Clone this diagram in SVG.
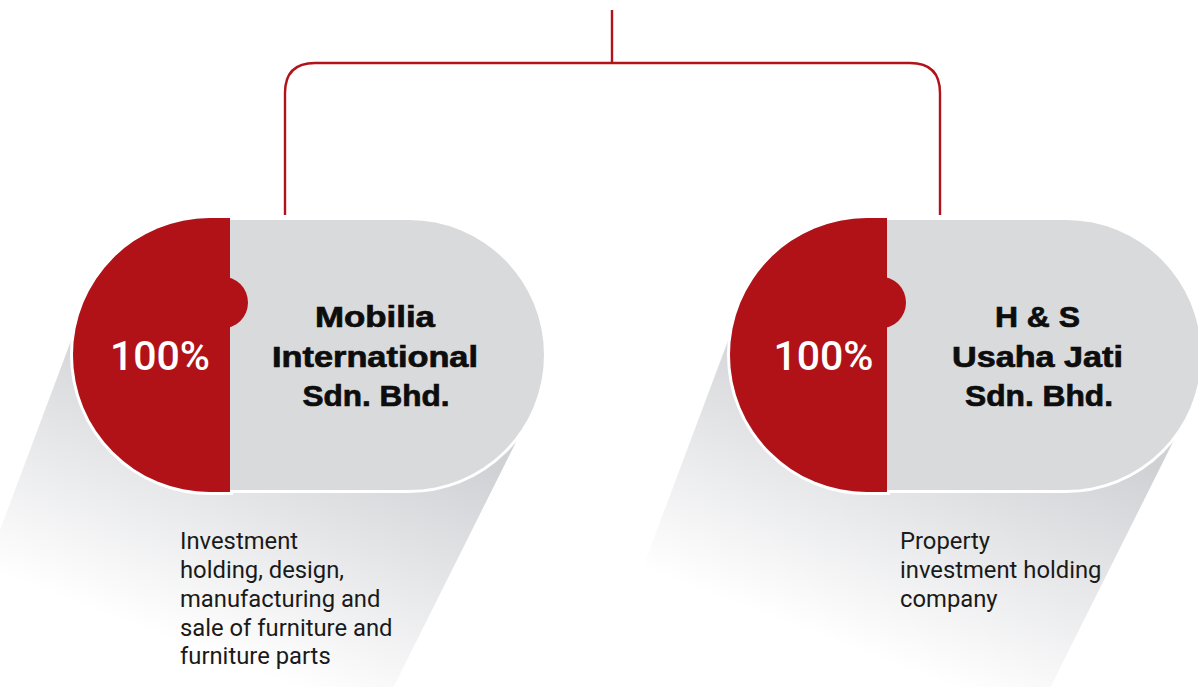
<svg xmlns="http://www.w3.org/2000/svg" width="1198" height="687" viewBox="0 0 1198 687">
  <defs>
    <linearGradient id="shadeL" gradientUnits="userSpaceOnUse" x1="400" y1="430" x2="300" y2="690">
      <stop offset="0" stop-color="#d0d1d5"/>
      <stop offset="1" stop-color="#ffffff"/>
    </linearGradient>
    <linearGradient id="shadeR" gradientUnits="userSpaceOnUse" x1="1057" y1="430" x2="957" y2="690">
      <stop offset="0" stop-color="#d0d1d5"/>
      <stop offset="1" stop-color="#ffffff"/>
    </linearGradient>
    <style>
      .conn { fill: none; stroke: #b0141a; stroke-width: 2.4; }
      .pill { fill: #d9dadc; stroke: #ffffff; stroke-width: 6; paint-order: stroke; }
      .red { fill: #b01218; }
      .pct { font-family: Roboto, "Liberation Sans", sans-serif; font-weight: 500; font-size: 41px; fill: #ffffff; text-anchor: middle; }
      .title { font-family: "Liberation Sans", Arial, sans-serif; font-weight: 700; font-size: 29px; fill: #0d0d0d; stroke: #0d0d0d; stroke-width: 0.7; text-anchor: middle; }
      .desc { font-family: Roboto, "Liberation Sans", sans-serif; font-size: 23.8px; fill: #1a1a1a; }
    </style>
  </defs>

  <g id="connectors">
    <path class="conn" d="M612,10 V63"/>
    <path class="conn" d="M285,215 V93 Q285,63 315,63 H910 Q940,63 940,93 V215"/>
  </g>

  <g id="node-mobilia">
    <polygon points="75,330 -60,690 392,690 527,420 540,355" fill="url(#shadeL)"/>
    <path class="pill" d="M210,218 H230 V220 H409 A135,135 0 0 1 409,490 H230 V492 H210 A137,137 0 0 1 210,218 Z"/>
    <path class="red" d="M210,218 H230 V492 H210 A137,137 0 0 1 210,218 Z"/>
    <circle class="red" cx="222" cy="302.5" r="26"/>
    <text class="pct" x="160" y="370">100%</text>
    <text class="title" x="375" y="327" textLength="120" lengthAdjust="spacingAndGlyphs">Mobilia</text>
    <text class="title" x="375" y="367" textLength="206" lengthAdjust="spacingAndGlyphs">International</text>
    <text class="title" x="376" y="406" textLength="147" lengthAdjust="spacingAndGlyphs">Sdn. Bhd.</text>
    <text class="desc" x="180" y="549">Investment</text>
    <text class="desc" x="180" y="578">holding, design,</text>
    <text class="desc" x="180" y="607">manufacturing and</text>
    <text class="desc" x="180" y="636">sale of furniture and</text>
    <text class="desc" x="180" y="664">furniture parts</text>
  </g>

  <g id="node-hs">
    <polygon points="732,330 597,690 1049,690 1184,420 1197,355" fill="url(#shadeR)"/>
    <path class="pill" d="M867,218 H887 V220 H1066 A135,135 0 0 1 1066,490 H887 V492 H867 A137,137 0 0 1 867,218 Z"/>
    <path class="red" d="M867,218 H887 V492 H867 A137,137 0 0 1 867,218 Z"/>
    <circle class="red" cx="880" cy="302.5" r="26"/>
    <text class="pct" x="823.5" y="370">100%</text>
    <text class="title" x="1037.5" y="327" textLength="85" lengthAdjust="spacingAndGlyphs">H &amp; S</text>
    <text class="title" x="1037.5" y="367" textLength="171" lengthAdjust="spacingAndGlyphs">Usaha Jati</text>
    <text class="title" x="1039" y="406" textLength="148" lengthAdjust="spacingAndGlyphs">Sdn. Bhd.</text>
    <text class="desc" x="900" y="549">Property</text>
    <text class="desc" x="900" y="578">investment holding</text>
    <text class="desc" x="900" y="607">company</text>
  </g>
</svg>
